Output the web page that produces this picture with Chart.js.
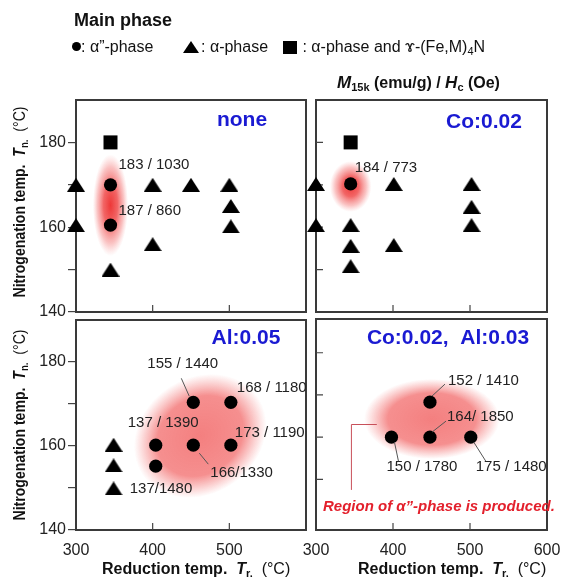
<!DOCTYPE html>
<html>
<head>
<meta charset="utf-8">
<title>Main phase map</title>
<script src="https://cdn.jsdelivr.net/npm/chart.js@4.4.1/dist/chart.umd.min.js"></script>
<style>
body { margin: 0; background: #fff; }
#page { position: relative; width: 570px; height: 580px; overflow: hidden; font-family: "Liberation Sans", Arial, sans-serif; color: #111; }
#page canvas { position: absolute; left: 0; top: 0; }
.t { position: absolute; white-space: nowrap; }
.sub { font-size: 11px; vertical-align: -3px; }
.lg { font-size: 16px; line-height: 16px; top: 39px; }
.mk { position: absolute; background: #000; }
.blue { color: #1a1ad2; font-weight: bold; font-size: 21px; line-height: 21px; width: 200px; text-align: center; }
.xtitle { font-size: 16px; line-height: 16px; font-weight: bold; top: 561px; }
.ytitle { font-size: 16px; line-height: 16px; font-weight: bold; width: 240px; left: -98px; text-align: center; transform: rotate(-90deg) scaleX(0.88); }
.nb { font-weight: normal; }
</style>
</head>
<body>
<div id="page">
  <canvas id="c0" width="570" height="580"></canvas>
  <canvas id="c1" width="570" height="580"></canvas>
  <canvas id="c2" width="570" height="580"></canvas>
  <canvas id="c3" width="570" height="580"></canvas>

  <div class="t" style="left:74px;top:11px;font-size:18px;line-height:18px;font-weight:bold">Main phase</div>
  <div class="mk" style="left:72px;top:42px;width:9px;height:9px;border-radius:50%"></div>
  <div class="t lg" style="left:81px">: α”-phase</div>
  <div class="mk" style="left:183px;top:41px;width:0;height:0;background:none;border-left:8.5px solid transparent;border-right:8.5px solid transparent;border-bottom:12px solid #000"></div>
  <div class="t lg" style="left:201px">: α-phase</div>
  <div class="mk" style="left:283px;top:41px;width:14px;height:13px"></div>
  <div class="t lg" style="left:298px">&nbsp;: α-phase and ɤ-(Fe,M)<span class="sub">4</span>N</div>

  <div class="t" style="left:337px;top:74.5px;font-size:16px;line-height:16px;font-weight:bold"><i style="font-size:17px">M</i><span class="sub">15k</span> (emu/g) / <i style="font-size:17px">H</i><span class="sub">c</span> (Oe)</div>

  <div class="t blue" style="left:142px;top:108px">none</div>
  <div class="t blue" style="left:384px;top:109.5px">Co:0.02</div>
  <div class="t blue" style="left:146px;top:326px">Al:0.05</div>
  <div class="t blue" style="left:348px;top:326px">Co:0.02,&nbsp;&nbsp;Al:0.03</div>

  <div class="t ytitle" style="top:192px">Nitrogenation temp.&nbsp; <i>T</i><span class="sub">n.</span>&nbsp;&nbsp;<span class="nb">(°C)</span></div>
  <div class="t ytitle" style="top:415px">Nitrogenation temp.&nbsp; <i>T</i><span class="sub">n.</span>&nbsp;&nbsp;<span class="nb">(°C)</span></div>
  <div class="t xtitle" style="left:102px">Reduction temp.&nbsp; <i>T</i><span class="sub">r.</span>&nbsp;&nbsp;<span class="nb">(°C)</span></div>
  <div class="t xtitle" style="left:358px">Reduction temp.&nbsp; <i>T</i><span class="sub">r.</span>&nbsp;&nbsp;<span class="nb">(°C)</span></div>

  <div class="t" style="left:323px;top:498px;font-size:15px;line-height:15px;font-weight:bold;font-style:italic;color:#e3202c">Region of α”-phase is produced.</div>
</div>

<script>
// axis ticks
const xTicks = [300, 400, 500, 600];
const yTicks = [140, 150, 160, 170, 180];
const yTicksBR = [150, 160, 170, 180];

// panel "none"  [Tr, Tn]
const noneCircle = [[345, 170], [345, 160.5]];
const noneTriangle = [[300, 170], [300, 160.5], [345, 150], [400, 170], [400, 156], [450, 170], [500, 170], [502, 165], [502, 160.2]];
const noneSquare = [[345, 180]];
const noneText = ['183 / 1030', '187 / 860'];

// panel "Co:0.02"
const coCircle = [[345, 170.2]];
const coTriangle = [[300, 170.2], [300, 160.5], [345, 160.5], [345, 155.6], [345, 150.8], [401, 170.2], [401, 155.8], [502, 170.2], [502, 164.8], [502, 160.5]];
const coSquare = [[345, 180]];
const coText = ['184 / 773'];

// panel "Al:0.05"
const alCircle = [[404, 160.2], [404, 155.2], [453, 170.4], [502, 170.4], [453, 160.2], [502, 160.2]];
const alTriangle = [[349, 160.3], [349, 155.4], [349, 149.9]];
const alText = ['137 / 1390', '137/1480', '155 / 1440', '168 / 1180', '166/1330', '173 / 1190'];

// panel "Co:0.02, Al:0.03"
const coAlCircle = [[398, 160], [448, 168.3], [448, 160], [501, 160]];
const coAlText = ['150 / 1780', '152 / 1410', '164/ 1850', '175 / 1480'];

// label placement relative to each circle: [dx, dy, leader x1, y1, x2, y2]
const noneTextPos = [[8, -20], [8, -14]];
const coTextPos = [[4, -16]];
const alTextPos = [[-28, -22], [-26, 23], [-46, -38, -12, -24, -4, -6], [6, -14], [17, 28, 6, 8, 15, 19], [4, -12]];
const coAlTextPos = [[-5, 30, 3, 5, 7, 24], [18, -21, 2, -6, 15, -18], [17, -20, 2, -5, 16, -16], [5, 30, 3, 5, 15, 24]];

const pts = arr => arr.map(p => ({x: p[0], y: p[1]}));

Chart.defaults.font.family = '"Liberation Sans", Arial, sans-serif';
Chart.defaults.color = '#222';

const tri = document.createElement('canvas');
tri.width = 18; tri.height = 14;
const tc = tri.getContext('2d');
tc.fillStyle = '#000';
tc.beginPath(); tc.moveTo(9, 0); tc.lineTo(18, 14); tc.lineTo(0, 14); tc.closePath(); tc.fill();

const marks = {
  id: 'marks',
  beforeDatasetsDraw(chart, args, o) {
    const {ctx, chartArea: a, scales: {x, y}} = chart;
    (o.glows || []).forEach(g => {
      const cx = x.getPixelForValue(g.x), cy = y.getPixelForValue(g.y);
      const rx = Math.abs(x.getPixelForValue(g.x + g.rx) - cx);
      const ry = Math.abs(y.getPixelForValue(g.y + g.ry) - cy);
      ctx.save();
      ctx.translate(cx, cy); ctx.rotate(g.rot || 0); ctx.scale(rx, ry);
      const grd = ctx.createRadialGradient(0, 0, 0, 0, 0, 1);
      g.stops.forEach(s => grd.addColorStop(s[0], s[1]));
      ctx.fillStyle = grd;
      ctx.beginPath(); ctx.arc(0, 0, 1, 0, Math.PI * 2); ctx.fill();
      ctx.restore();
    });
    ctx.save();
    ctx.strokeStyle = '#3a3a3a'; ctx.lineWidth = 2;
    ctx.strokeRect(a.left, a.top, a.right - a.left, a.bottom - a.top);
    ctx.strokeStyle = '#444'; ctx.lineWidth = 1.2;
    ctx.beginPath();
    [400, 500].forEach(v => { const px = x.getPixelForValue(v); ctx.moveTo(px, a.bottom); ctx.lineTo(px, a.bottom - 7); });
    (o.yIn || []).forEach(v => { const py = y.getPixelForValue(v); ctx.moveTo(a.left, py); ctx.lineTo(a.left + 7, py); });
    ctx.stroke();
    if (o.bracket) {
      ctx.strokeStyle = '#c8505a'; ctx.lineWidth = 1;
      ctx.beginPath();
      o.bracket.forEach((p, i) => {
        const px = x.getPixelForValue(p[0]), py = y.getPixelForValue(p[1]);
        i ? ctx.lineTo(px, py) : ctx.moveTo(px, py);
      });
      ctx.stroke();
    }
    ctx.restore();
  },
  afterDatasetsDraw(chart, args, o) {
    const ctx = chart.ctx;
    const meta = chart.getDatasetMeta(1);
    ctx.save();
    ctx.font = '15px "Liberation Sans", Arial, sans-serif';
    ctx.fillStyle = '#222'; ctx.strokeStyle = '#555'; ctx.lineWidth = 1;
    ctx.textAlign = 'left'; ctx.textBaseline = 'middle';
    (o.text || []).forEach((t, i) => {
      const p = meta.data[i], q = o.pos[i];
      ctx.fillText(t, p.x + q[0], p.y + q[1]);
      if (q.length > 2) {
        ctx.beginPath(); ctx.moveTo(p.x + q[2], p.y + q[3]); ctx.lineTo(p.x + q[4], p.y + q[5]); ctx.stroke();
      }
    });
    ctx.restore();
  }
};

const redCore = [[0, 'rgba(236,45,45,0.95)'], [0.4, 'rgba(240,75,75,0.85)'], [0.75, 'rgba(244,120,120,0.45)'], [1, 'rgba(248,150,150,0)']];
const redFlat = [[0, 'rgba(242,105,105,0.85)'], [0.65, 'rgba(243,115,115,0.8)'], [1, 'rgba(245,130,130,0)']];

function panel(id, cfg) {
  const [l, t, r, b] = cfg.area;
  const yW = cfg.yLabels ? 40 : 0;
  const xH = cfg.xLabels ? 40 : 0;
  new Chart(document.getElementById(id), {
    type: 'scatter',
    data: {
      datasets: [
        {data: pts(cfg.triangle || []), pointStyle: tri, pointRadius: 9, clip: false},
        {data: pts(cfg.circle || []), pointStyle: 'circle', pointRadius: 6.6, backgroundColor: '#000', borderWidth: 0, clip: false},
        {data: pts(cfg.square || []), pointStyle: 'rect', pointRadius: 9.9, backgroundColor: '#000', borderWidth: 0, clip: false}
      ]
    },
    options: {
      responsive: false,
      animation: false,
      events: [],
      layout: {padding: {left: l - yW, top: t, right: 570 - r, bottom: 580 - b - xH}},
      scales: {
        x: {
          type: 'linear', min: 300, max: 600,
          afterBuildTicks: s => { s.ticks = xTicks.map(v => ({value: v})); },
          afterFit: s => { s.height = xH; s.paddingLeft = 0; s.paddingRight = 0; },
          grid: {display: false, drawTicks: false},
          border: {display: false},
          ticks: {display: cfg.xLabels, padding: 11, font: {size: 16}, maxRotation: 0,
            callback: v => (cfg.xShow.includes(v) ? v : '')}
        },
        y: {
          type: 'linear', min: cfg.yMin, max: cfg.yMin + 50,
          afterBuildTicks: s => { s.ticks = (cfg.yTicks || yTicks).map(v => ({value: v})); },
          afterFit: s => { s.width = yW; s.paddingTop = 0; s.paddingBottom = 0; },
          grid: {display: cfg.yLabels, drawOnChartArea: false, drawTicks: true, tickLength: 8, color: '#444', lineWidth: 1.2},
          border: {display: false},
          ticks: {display: cfg.yLabels, padding: 2, font: {size: 16},
            callback: v => (v % 20 === 0 ? v : '')}
        }
      },
      plugins: {
        legend: {display: false},
        tooltip: {enabled: false},
        marks: {glows: cfg.glows, text: cfg.text, pos: cfg.pos, yIn: cfg.yIn, bracket: cfg.bracket}
      }
    },
    plugins: [marks]
  });
}

panel('c0', {
  area: [76, 100, 306, 312], yMin: 140, yLabels: true, xLabels: false, xShow: [],
  circle: noneCircle, triangle: noneTriangle, square: noneSquare,
  text: noneText, pos: noneTextPos,
  glows: [{x: 345, y: 165.2, rx: 23, ry: 12, stops: redCore}]
});
panel('c1', {
  area: [316, 100, 547, 312], yMin: 140, yLabels: false, xLabels: false, xShow: [],
  circle: coCircle, triangle: coTriangle, square: coSquare,
  text: coText, pos: coTextPos, yIn: [150, 160, 170, 180],
  glows: [{x: 345, y: 169.6, rx: 27, ry: 6, stops: redCore}]
});
panel('c2', {
  area: [76, 320, 306, 530], yMin: 140, yLabels: true, xLabels: true, xShow: [300, 400, 500],
  circle: alCircle, triangle: alTriangle,
  text: alText, pos: alTextPos,
  glows: [{x: 462, y: 162.4, rx: 91, ry: 13.8, rot: -0.6, stops: redFlat}]
});
panel('c3', {
  area: [316, 319, 547, 530], yMin: 138, yTicks: yTicksBR, yLabels: false, xLabels: true, xShow: [300, 400, 500, 600],
  circle: coAlCircle,
  text: coAlText, pos: coAlTextPos, yIn: yTicksBR,
  glows: [{x: 450.5, y: 164.3, rx: 88, ry: 9.5, stops: redFlat}],
  bracket: [[379, 163], [346, 163], [346, 147.5]]
});
</script>
</body>
</html>
